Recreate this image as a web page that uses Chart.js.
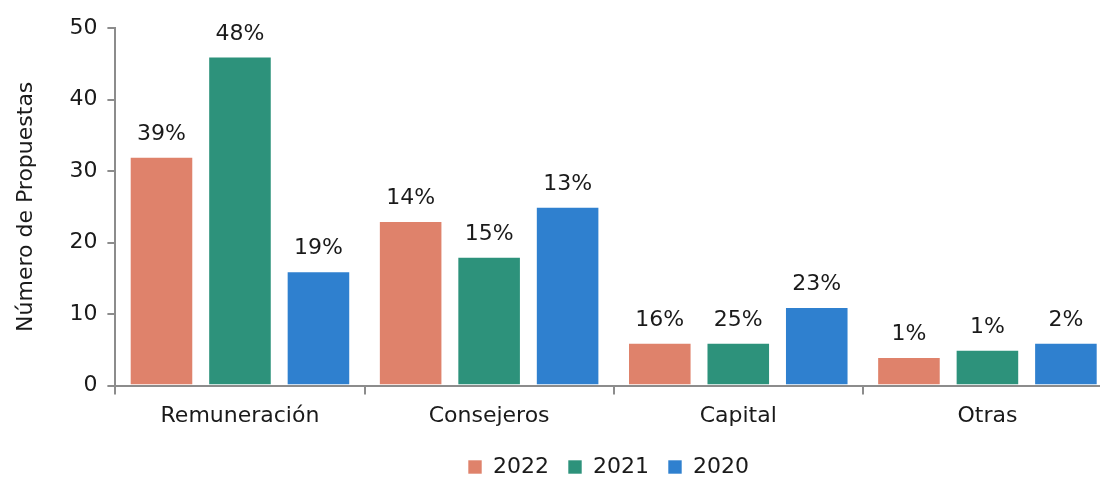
<!DOCTYPE html>
<html><head><meta charset="utf-8">
<script src="https://cdn.jsdelivr.net/npm/chart.js@4"></script>
<style>
html,body{margin:0;padding:0;overflow:hidden;background:#fff;}
#wrap{width:1112px;height:477px;position:relative;}
</style></head>
<body>
<div id="wrap"><canvas id="c"></canvas></div>
<script>
const categories = ["Remuneración", "Consejeros", "Capital", "Otras"];
const seriesNames = ["2022", "2021", "2020"];
const values2022 = [32, 23, 6, 4];
const values2021 = [46, 18, 6, 5];
const values2020 = [16, 25, 11, 6];
const labels2022 = ["39%", "14%", "16%", "1%"];
const labels2021 = ["48%", "15%", "25%", "1%"];
const labels2020 = ["19%", "13%", "23%", "2%"];
const yTicks = [0, 10, 20, 30, 40, 50];
const colors = ["#DF826B", "#2D927B", "#2F80CF"];

const FONT = "'DejaVu Sans', sans-serif";
const TEXT = "#1a1a1a";
const pctLabels = [labels2022, labels2021, labels2020];

const labelPlugin = {
  id: 'pctLabels',
  afterDatasetsDraw(chart) {
    const ctx = chart.ctx;
    ctx.save();
    ctx.font = "22px " + FONT;
    ctx.fillStyle = TEXT;
    ctx.textAlign = "center";
    ctx.textBaseline = "alphabetic";
    chart.data.datasets.forEach((ds, i) => {
      const meta = chart.getDatasetMeta(i);
      meta.data.forEach((bar, j) => {
        ctx.fillText(pctLabels[i][j], bar.x, bar.y - 17);
      });
    });
    ctx.restore();
  }
};

const legendShift = {
  id: 'legendShift',
  afterLayout(chart) {
    const l = chart.legend;
    if (!l) return;
    const dx = 46;
    l.left += dx; l.right += dx;
  }
};

new Chart(document.getElementById('c'), {
  type: 'bar',
  data: {
    labels: categories,
    datasets: [
      { label: seriesNames[0], data: values2022, backgroundColor: colors[0] },
      { label: seriesNames[1], data: values2021, backgroundColor: colors[1] },
      { label: seriesNames[2], data: values2020, backgroundColor: colors[2] }
    ].map(d => Object.assign(d, { borderColor: "rgba(255,255,255,0.6)", borderWidth: 1, categoryPercentage: 0.945, barPercentage: 0.81 }))
  },
  options: {
    responsive: true,
    maintainAspectRatio: false,
    animation: false,
    layout: { padding: { top: 28, right: 0, left: 13, bottom: -11 } },
    plugins: {
      tooltip: { enabled: false },
      legend: {
        position: 'bottom',
        labels: {
          font: { family: FONT, size: 22 },
          color: TEXT,
          boxWidth: 14, boxHeight: 14,
          padding: 19
        }
      }
    },
    scales: {
      x: {
        grid: { display: true, drawOnChartArea: false, offset: true, color: "#8c8c8c", lineWidth: 2, tickLength: 9 },
        border: { display: true, color: "#8c8c8c", width: 2 },
        ticks: { font: { family: FONT, size: 22 }, color: TEXT, padding: 8 }
      },
      y: {
        min: 0, max: 50,
        afterBuildTicks(axis) { axis.ticks = yTicks.map(v => ({ value: v })); },
        grid: { display: true, drawOnChartArea: false, color: "#8c8c8c", lineWidth: 2, tickLength: 8 },
        border: { display: true, color: "#8c8c8c", width: 2 },
        ticks: { font: { family: FONT, size: 22 }, color: TEXT, padding: 10 },
        title: { display: true, text: "Número de Propuestas", font: { family: FONT, size: 22 }, color: TEXT, padding: { top: 0, bottom: 20 } }
      }
    }
  },
  plugins: [labelPlugin, legendShift]
});
</script>
</body></html>
